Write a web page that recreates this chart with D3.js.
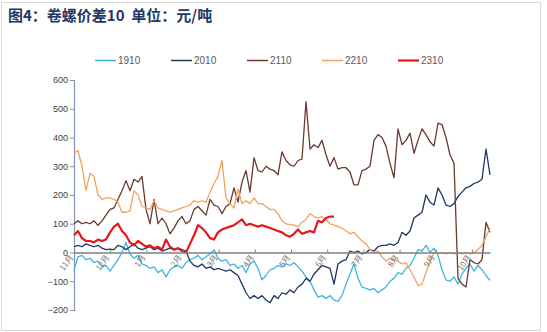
<!DOCTYPE html>
<html><head><meta charset="utf-8">
<script src="https://cdn.jsdelivr.net/npm/d3@7"></script>
<style>
html,body{margin:0;padding:0;background:#fff;}
svg{display:block;font-family:"Liberation Sans","Noto Sans CJK SC",Arial,sans-serif;}
</style></head>
<body>
<svg id="chart" width="547" height="332"></svg>
<script>
// ---- data ----
const title = "图4：卷螺价差10\u00A0\u00A0单位：元/吨";
const seriesNames = ["1910","2010","2110","2210","2310"];
const monthLabels = ["11月","12月","1月","2月","3月","4月","5月","6月","7月","8月","9月","10月"];
const yTicks = [-200,-100,0,100,200,300,400,500,600];

const s1910 = [-60,-15,-10,-25,-20,-35,-30,-50,-45,-65,-45,-25,0,35,-5,-20,-10,-40,-45,-55,-50,-70,-60,-85,-60,-50,-45,-55,-35,-25,-20,-10,-25,-15,-5,10,-20,-30,-25,-45,-40,-55,-45,-70,-40,-30,-55,-95,-80,-60,-55,-45,-50,-40,-45,-35,-50,-65,-85,-100,-130,-155,-150,-160,-150,-165,-170,-150,-110,-75,-40,-90,-120,-125,-130,-125,-140,-130,-120,-100,-90,-70,-75,-55,-45,-20,10,5,25,0,15,-10,-60,-95,-100,-85,-110,-75,-55,-40,-65,-45,-60,-80,-97];
const s2010 = [20,25,20,30,25,20,25,15,10,12,10,25,20,10,20,30,15,10,15,20,10,15,5,10,15,10,15,10,5,-30,-45,-50,-40,-55,-50,-60,-55,-60,-65,-60,-70,-80,-110,-140,-160,-150,-160,-150,-165,-175,-150,-160,-140,-145,-130,-140,-120,-110,-90,-100,-75,-60,-45,-50,-55,-110,-40,-30,-25,5,0,5,-5,0,10,5,20,25,25,30,25,35,70,60,75,120,130,140,200,175,165,225,200,165,160,170,195,210,225,230,240,245,255,360,270];
const s2110 = [100,110,100,105,100,110,95,110,130,150,155,185,215,250,215,255,245,265,150,100,185,100,120,100,65,85,110,125,100,110,150,160,145,130,185,165,160,135,160,170,225,175,245,285,210,330,285,280,300,290,285,270,350,320,305,300,320,325,525,360,375,365,390,340,300,330,290,295,295,280,235,235,285,290,300,390,410,400,370,310,260,430,375,390,415,345,390,430,410,385,370,450,445,400,340,310,-90,-110,-120,-25,-35,-40,-25,105,70];
const s2210 = [345,355,300,215,275,265,200,185,190,190,185,175,140,140,145,215,200,160,155,150,180,155,150,145,140,145,150,155,160,165,180,175,180,175,210,240,265,320,190,170,155,220,170,180,170,190,170,170,160,150,150,135,110,100,97,95,90,105,115,135,125,120,125,115,100,95,90,85,75,65,70,55,40,30,10,0,5,-15,-30,-20,-25,-30,-40,-35,-60,-85,-115,-110,-70,-30,0,-5,0,-5,0,-5,0,-5,0,-5,0,10,25,55,85];
const s2310 = [60,75,50,40,40,35,45,40,45,70,90,100,75,60,35,25,40,30,20,25,15,20,10,45,20,10,15,5,0,30,60,95,85,70,50,45,70,80,85,90,95,105,115,95,100,95,90,95,90,85,80,75,70,60,55,65,80,65,70,75,70,110,105,120,125,125];

const seriesData = [s1910, s2010, s2110, s2210, s2310];
const colors = ["#3DB5E2","#1F3763","#6A3A30","#F2A35E","#E8161C"];
const widths = [1.3,1.3,1.3,1.3,2.2];

// ---- chart ----
const svg = d3.select("#chart");
svg.append("rect").attr("x",1.5).attr("y",2.5).attr("width",539).attr("height",328)
  .attr("fill","#fff").attr("stroke","#d9d9d9").attr("stroke-width",1);

svg.append("text").attr("x",8).attr("y",21)
  .attr("font-family","'Noto Sans CJK SC',sans-serif")
  .attr("font-weight","bold").attr("font-size",15).attr("fill","#1F3864")
  .text(title);

const monthsSpan = 11.5;
const x = d3.scaleLinear().domain([0, monthsSpan]).range([74, 490]);
const y = d3.scaleLinear().domain([-200, 600]).range([310, 80]);
const step = monthsSpan / (s1910.length - 1);

// y axis
const yAxis = d3.axisLeft(y).tickValues(yTicks).tickSize(4).tickFormat(d3.format("d"));
const gy = svg.append("g").attr("transform","translate(74,0)").call(yAxis);
gy.select(".domain").attr("stroke","#8496B0").attr("stroke-width",1.2);
gy.selectAll(".tick line").attr("stroke","#8496B0");
gy.selectAll(".tick text").attr("font-size",9).attr("fill","#404040")
  .attr("font-family","'Liberation Sans',Arial,sans-serif").attr("x",-6);

// lines
const line = d3.line().x((d,i)=>x(i*step)).y(d=>y(d));
seriesData.forEach((s,k)=>{
  svg.append("path").datum(s).attr("fill","none")
    .attr("stroke",colors[k]).attr("stroke-width",widths[k])
    .attr("stroke-linejoin","round").attr("d",line);
});

// zero axis with month ticks
const xAxis = d3.axisBottom(x).tickValues(d3.range(monthLabels.length)).tickSize(0).tickFormat("");
const gx = svg.append("g").attr("transform",`translate(0,${y(0)})`).call(xAxis);
gx.select(".domain").attr("stroke","#7F7F7F").attr("stroke-width",1.5);
gx.selectAll(".tick").append("line").attr("y1",0).attr("y2",-3).attr("stroke","#7F7F7F");
gx.selectAll(".tick").append("text")
  .attr("transform","translate(-1,5) rotate(-55)")
  .attr("text-anchor","end").attr("font-size",8).attr("fill","#6F6F6F")
  .attr("font-family","'Noto Sans CJK SC',sans-serif")
  .text((d,i)=>monthLabels[i]);

// legend
const legendX = [95,171,247,322,398];
const lg = svg.append("g");
seriesNames.forEach((n,k)=>{
  lg.append("line").attr("x1",legendX[k]).attr("x2",legendX[k]+21)
    .attr("y1",60.5).attr("y2",60.5).attr("stroke",colors[k]).attr("stroke-width",k===4?2.2:1.5);
  lg.append("text").attr("x",legendX[k]+23).attr("y",64).attr("font-size",10)
    .attr("fill","#595959").text(n);
});
</script>
</body></html>
